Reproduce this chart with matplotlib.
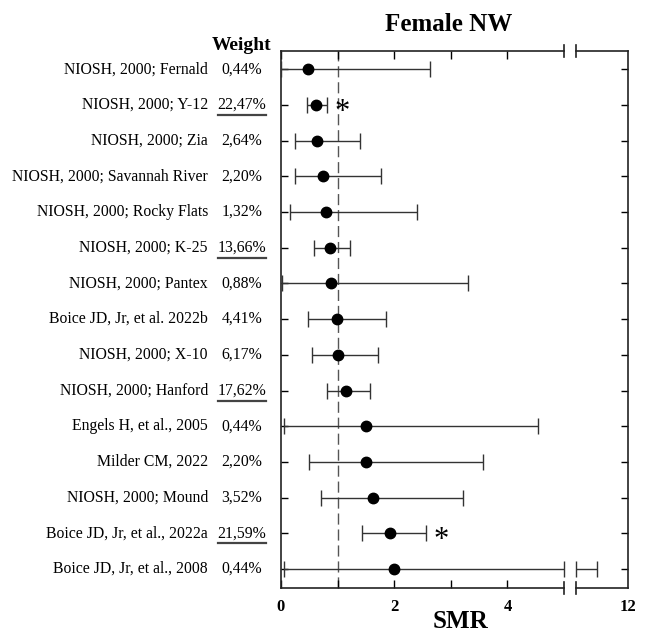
import matplotlib
matplotlib.use("Agg")
import matplotlib.pyplot as plt
from matplotlib.lines import Line2D
from matplotlib.transforms import blended_transform_factory

plt.rcParams["font.family"] = ["Liberation Serif", "DejaVu Serif"]

studies = [
    "NIOSH, 2000; Fernald", "NIOSH, 2000; Y-12", "NIOSH, 2000; Zia",
    "NIOSH, 2000; Savannah River", "NIOSH, 2000; Rocky Flats",
    "NIOSH, 2000; K-25", "NIOSH, 2000; Pantex", "Boice JD, Jr, et al. 2022b",
    "NIOSH, 2000; X-10", "NIOSH, 2000; Hanford", "Engels H, et al., 2005",
    "Milder CM, 2022", "NIOSH, 2000; Mound", "Boice JD, Jr, et al., 2022a",
    "Boice JD, Jr, et al., 2008",
]
weights = ["0,44%", "22,47%", "2,64%", "2,20%", "1,32%", "13,66%", "0,88%",
           "4,41%", "6,17%", "17,62%", "0,44%", "2,20%", "3,52%", "21,59%",
           "0,44%"]
underlined = [False, True, False, False, False, True, False, False, False,
              True, False, False, False, True, False]
smr = [0.47, 0.62, 0.64, 0.75, 0.80, 0.86, 0.89, 0.99, 1.01, 1.15, 1.51,
       1.51, 1.63, 1.92, 1.99]
ci_lo = [0.0, 0.46, 0.24, 0.24, 0.16, 0.58, 0.01, 0.47, 0.55, 0.82, 0.05,
         0.49, 0.70, 1.43, 0.06]
ci_hi = [2.63, 0.81, 1.40, 1.77, 2.41, 1.22, 3.30, 1.85, 1.72, 1.57, 4.54,
         3.57, 3.22, 2.56, 11.45]
significant = [False, True, False, False, False, False, False, False, False,
               False, False, False, False, True, False]

left_lim = (0, 5)
right_lim = (11.07, 12)
line_col = "#333333"

fig = plt.figure(figsize=(6.5, 6.34), dpi=100)
ax = fig.add_axes([0.4323, 0.0726, 0.4354, 0.847])
ax2 = fig.add_axes([0.8862, 0.0726, 0.0800, 0.847])

rows = list(range(1, len(studies) + 1))
for a, lim in ((ax, left_lim), (ax2, right_lim)):
    a.set_xlim(*lim)
    a.set_ylim(15.53, 0.49)
    a.set_yticks(rows)
    a.set_yticklabels([])
    for s in a.spines.values():
        s.set_linewidth(1.2)
        s.set_color("#222222")

# left panel
ax.spines["right"].set_visible(False)
ax.set_xticks([0, 2, 4])
ax.set_xticklabels(["0", "2", "4"], fontsize=12, fontweight="bold")
ax.set_xticks([1, 3], minor=True)
ax.tick_params(axis="x", which="both", direction="in", length=6, top=True,
               width=1, pad=8)
ax.tick_params(axis="y", direction="in", length=5, left=True, right=False,
               width=1)
ax.axvline(1, color="#555555", lw=1, ls=(0, (8, 3.5)), zorder=1)

for r, m, lo, hi in zip(rows, smr, ci_lo, ci_hi):
    hi_l = min(hi, left_lim[1])
    ax.errorbar([m], [r], xerr=[[m - lo], [hi_l - m]], fmt="o", color="black",
                ecolor=line_col, elinewidth=1, capsize=5.5, capthick=1,
                markersize=7.5, clip_on=False, zorder=3)
    if hi > left_lim[1]:
        lo_r = right_lim[0]
        ax2.errorbar([(lo_r + hi) / 2], [r], xerr=[(hi - lo_r) / 2], fmt="none",
                     ecolor=line_col, elinewidth=1, capsize=5.5, capthick=1,
                     clip_on=False)

for r, hi, sig in zip(rows, ci_hi, significant):
    if sig:
        ax.text(hi + 0.13, r + 0.2, "*", fontsize=22, ha="left",
                va="center", color="black")

# right panel
ax2.spines["left"].set_visible(False)
ax2.set_xticks([12])
ax2.set_xticklabels(["12"], fontsize=12, fontweight="bold")
ax2.tick_params(axis="x", direction="in", length=0, pad=8)
ax2.tick_params(axis="y", direction="in", length=5, left=False, right=True,
                width=1)

# break marks
d = 0.011
for a, xe in ((ax, 1), (ax2, 0)):
    for ye in (0, 1):
        a.plot([xe, xe], [ye - d, ye + d], transform=a.transAxes,
               color="#222222", lw=1.2, clip_on=False)

# labels column
tr = blended_transform_factory(ax.transAxes, ax.transData)
label_texts = []
for r, name, w in zip(rows, studies, weights):
    ax.text(-0.258, r, name, transform=tr, ha="right", va="center",
            fontsize=11.3, color="black")
    t = ax.text(-0.138, r, w, transform=tr, ha="center", va="center",
                fontsize=11.3, color="black")
    label_texts.append(t)
ax.text(-0.138, 0.33, "Weight", transform=tr, ha="center", va="center",
        fontsize=14, fontweight="bold")

fig.text(0.69, 0.962, "Female NW", ha="center", va="center", fontsize=18,
         fontweight="bold")
fig.text(0.708, 0.02, "SMR", ha="center", va="center", fontsize=18,
         fontweight="bold")

# underline the heavy-weight studies
fig.canvas.draw()
renderer = fig.canvas.get_renderer()
for t, u in zip(label_texts, underlined):
    if u:
        bb = t.get_window_extent(renderer)
        y = bb.y0 - 2
        fig.add_artist(Line2D([bb.x0, bb.x1], [y, y], transform=None,
                              color="#444444", lw=1.6))

fig.savefig("out.png", dpi=100)
